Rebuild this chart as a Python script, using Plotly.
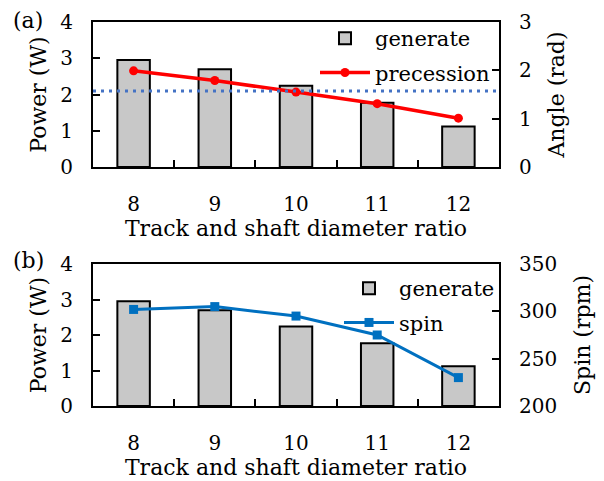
import plotly.graph_objects as go
from plotly.subplots import make_subplots
import math

ratios = ["8", "9", "10", "11", "12"]
power_w = [2.95, 2.70, 2.24, 1.77, 1.12]
precession_rad = [1.99, 1.79, 1.55, 1.31, 1.01]
spin_rpm = [302, 305, 295, 275, 230]
reference_angle = math.pi / 2

FONT = "DejaVu Serif"
BAR_FILL = "#c8c8c8"
RED = "#ff0000"
BLUE = "#0070c0"
DOT_BLUE = "#4472c4"

fig = make_subplots(rows=2, cols=1, specs=[[{"secondary_y": True}], [{"secondary_y": True}]])

fig.add_trace(go.Bar(x=ratios, y=power_w, name="generate", width=0.4,
                     marker=dict(color=BAR_FILL, line=dict(color="black", width=2)),
                     legend="legend", legendgroup="g1"), row=1, col=1, secondary_y=False)
fig.add_trace(go.Scatter(x=ratios, y=precession_rad, name="precession", mode="lines+markers",
                         line=dict(color=RED, width=3.5), marker=dict(symbol="circle", size=9, color=RED),
                         legend="legend", legendgroup="g2"), row=1, col=1, secondary_y=True)
fig.add_trace(go.Bar(x=ratios, y=power_w, name="generate", width=0.4,
                     marker=dict(color=BAR_FILL, line=dict(color="black", width=2)),
                     legend="legend2", legendgroup="g3"), row=2, col=1, secondary_y=False)
fig.add_trace(go.Scatter(x=ratios, y=spin_rpm, name="spin", mode="lines+markers",
                         line=dict(color=BLUE, width=3), marker=dict(symbol="square", size=9, color=BLUE),
                         legend="legend2", legendgroup="g4"), row=2, col=1, secondary_y=True)

fig.add_shape(type="line", xref="x domain", x0=0, x1=1, yref="y2", y0=reference_angle, y1=reference_angle,
              line=dict(color=DOT_BLUE, width=3, dash="3px,5px"))

H, W = 481, 604
ml, mr, mt, mb = 93, 105, 22, 75
ph = H - mt - mb
pw = W - ml - mr
top_dom = [(406 - 167) / ph, 1.0]
bot_dom = [0.0, (406 - 264) / ph]

tickfont = dict(family=FONT, size=20, color="black")
titlefont = dict(family=FONT, size=22, color="black")
legfont = dict(family=FONT, size=21, color="black")

xcommon = dict(type="category", range=[-0.5, 4.5], showline=True, linecolor="black", linewidth=2,
               mirror=True, ticks="inside", tickson="boundaries", ticklen=7, tickwidth=1.5,
               tickcolor="black", tickfont=tickfont, ticklabelstandoff=18, showgrid=False, zeroline=False,
               automargin=False,
               title=dict(text="Track and shaft diameter ratio", font=titlefont, standoff=2))
fig.update_xaxes(**xcommon)
ycommon = dict(showline=True, linecolor="black", linewidth=2, ticks="inside", ticklen=7, tickwidth=1.5,
               tickcolor="black", tickfont=tickfont, showgrid=False, zeroline=False, ticklabelstandoff=14,
               automargin=False)

fig.update_layout(
    width=W, height=H, autosize=False,
    margin=dict(l=ml, r=mr, t=mt, b=mb),
    paper_bgcolor="white", plot_bgcolor="white",
    font=dict(family=FONT, size=20, color="black"),
    barmode="overlay",
    xaxis=dict(domain=[0, 1]),
    xaxis2=dict(domain=[0, 1]),
    yaxis=dict(domain=top_dom, range=[0, 4], dtick=1, title=dict(text="Power (W)", font=titlefont, standoff=8), **ycommon),
    yaxis2=dict(range=[0, 3], dtick=1, title=dict(text="Angle (rad)", font=titlefont, standoff=18), **ycommon),
    yaxis3=dict(domain=bot_dom, range=[0, 4], dtick=1, title=dict(text="Power (W)", font=titlefont, standoff=8), **ycommon),
    yaxis4=dict(range=[200, 350], dtick=50, title=dict(text="Spin (rpm)", font=titlefont, standoff=18), **ycommon),
    legend=dict(x=(315 - ml) / pw, y=1 + 4 / ph, xanchor="left", yanchor="top", bgcolor="rgba(0,0,0,0)",
                font=legfont, traceorder="grouped", tracegroupgap=4, itemwidth=50),
    legend2=dict(x=(339 - ml) / pw, y=(406 - 268) / ph, xanchor="left", yanchor="top", bgcolor="rgba(0,0,0,0)",
                 font=legfont, traceorder="grouped", tracegroupgap=4, itemwidth=50),
    annotations=[
        dict(text="(a)", xref="paper", yref="paper", x=(28 - ml) / pw, y=1 + 2 / ph,
             showarrow=False, font=titlefont, xanchor="center", yanchor="middle"),
        dict(text="(b)", xref="paper", yref="paper", x=(28 - ml) / pw, y=(406 - 260) / ph,
             showarrow=False, font=titlefont, xanchor="center", yanchor="middle"),
    ],
)
fig.update_yaxes(secondary_y=True, side="right")
fig.write_html("out.html")
